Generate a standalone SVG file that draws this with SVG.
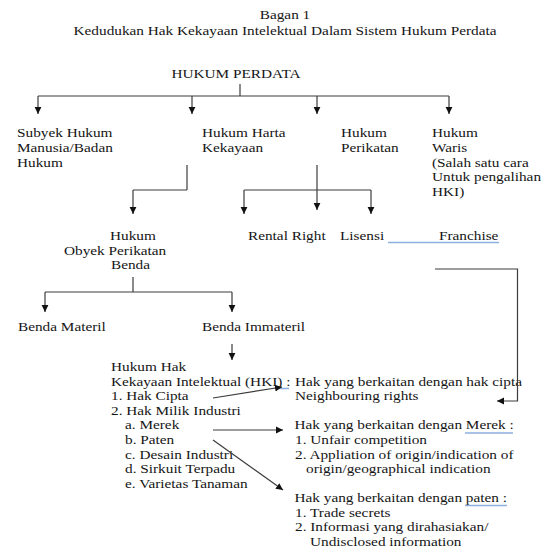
<svg xmlns="http://www.w3.org/2000/svg" width="546" height="549" viewBox="0 0 546 549">
<defs>
<style>
text{font-family:"Liberation Serif","Times New Roman",serif;font-size:13.5px;fill:#151515}
.c line,.c polyline{stroke:#3c3c3c;stroke-width:1.2;fill:none}
.a{marker-end:url(#ah)}
.u line{stroke:#8eaee0;stroke-width:1.6}
</style>
<marker id="ah" markerUnits="userSpaceOnUse" markerWidth="8" markerHeight="8" refX="7" refY="4" orient="auto"><path d="M0,0.6 L7,4 L0,7.4 z" fill="#111"/></marker>
</defs>
<rect width="546" height="549" fill="#fff"/>

<g id="title">
<text text-anchor="middle" transform="matrix(1.133 0 0 1 285 19)">Bagan 1</text>
<text text-anchor="middle" transform="matrix(1.133 0 0 1 285 34.5)">Kedudukan Hak Kekayaan Intelektual Dalam Sistem Hukum Perdata</text>
</g>

<g id="hukum-perdata"><text transform="matrix(1.133 0 0 1 171.5 78)">HUKUM PERDATA</text></g>

<g id="subyek-hukum"><text transform="matrix(1.133 0 0 1 17 137)"><tspan x="0">Subyek Hukum</tspan><tspan x="0" dy="14.8">Manusia/Badan</tspan><tspan x="0" dy="14.8">Hukum</tspan></text></g>

<g id="hukum-harta-kekayaan"><text transform="matrix(1.133 0 0 1 202 137)"><tspan x="0">Hukum Harta</tspan><tspan x="0" dy="14.8">Kekayaan</tspan></text></g>

<g id="hukum-perikatan"><text transform="matrix(1.133 0 0 1 341 137)"><tspan x="0">Hukum</tspan><tspan x="0" dy="14.8">Perikatan</tspan></text></g>

<g id="hukum-waris"><text transform="matrix(1.133 0 0 1 432 137)"><tspan x="0">Hukum</tspan><tspan x="0" dy="14.8">Waris</tspan><tspan x="0" dy="14.8">(Salah satu cara</tspan><tspan x="0" dy="14.8">Untuk pengalihan</tspan><tspan x="0" dy="14.8">HKI)</tspan></text></g>

<g id="hukum-obyek-perikatan-benda">
<text transform="matrix(1.133 0 0 1 110 240)">Hukum</text>
<text transform="matrix(1.133 0 0 1 64 254.5)">Obyek Perikatan</text>
<text transform="matrix(1.133 0 0 1 111 269)">Benda</text>
</g>

<g id="rental-right"><text transform="matrix(1.133 0 0 1 248 240)">Rental Right</text></g>
<g id="lisensi"><text transform="matrix(1.133 0 0 1 340 240)">Lisensi</text></g>
<g id="franchise"><text transform="matrix(1.133 0 0 1 439 240)">Franchise</text></g>

<g id="benda-materil"><text transform="matrix(1.133 0 0 1 18 331)">Benda Materil</text></g>
<g id="benda-immateril"><text transform="matrix(1.133 0 0 1 202 331)">Benda Immateril</text></g>

<g id="hki">
<text transform="matrix(1.133 0 0 1 111 371)">Hukum Hak</text>
<text transform="matrix(1.133 0 0 1 111 385.6)">Kekayaan Intelektual (HKI) :</text>
<text transform="matrix(1.133 0 0 1 111 400.2)">1. Hak Cipta</text>
<text transform="matrix(1.133 0 0 1 111 414.8)">2. Hak Milik Industri</text>
<text transform="matrix(1.133 0 0 1 125 429.4)">a. Merek</text>
<text transform="matrix(1.133 0 0 1 125 444)">b. Paten</text>
<text transform="matrix(1.133 0 0 1 125 458.6)">c. Desain Industri</text>
<text transform="matrix(1.133 0 0 1 125 473.2)">d. Sirkuit Terpadu</text>
<text transform="matrix(1.133 0 0 1 125 487.8)">e. Varietas Tanaman</text>
</g>

<g id="hak-cipta-terkait">
<text transform="matrix(1.133 0 0 1 295 385.6)">Hak yang berkaitan dengan hak cipta</text>
<text transform="matrix(1.133 0 0 1 295 400.2)">Neighbouring rights</text>
</g>

<g id="hak-merek-terkait">
<text transform="matrix(1.133 0 0 1 294.5 429.4)">Hak yang berkaitan dengan Merek :</text>
<text transform="matrix(1.133 0 0 1 295 444)">1. Unfair competition</text>
<text transform="matrix(1.133 0 0 1 295 458.6)">2. Appliation of origin/indication of</text>
<text transform="matrix(1.133 0 0 1 306 473.2)">origin/geographical indication</text>
</g>

<g id="hak-paten-terkait">
<text transform="matrix(1.133 0 0 1 294.5 502)">Hak yang berkaitan dengan paten :</text>
<text transform="matrix(1.133 0 0 1 295 516.6)">1. Trade secrets</text>
<text transform="matrix(1.133 0 0 1 295 531.2)">2. Informasi yang dirahasiakan/</text>
<text transform="matrix(1.133 0 0 1 310 545.8)">Undisclosed information</text>
</g>

<g id="underlines" class="u">
<line x1="388" y1="242.5" x2="499" y2="242.5"/>
<line x1="279" y1="388.5" x2="289" y2="388.5"/>
<line x1="465" y1="433" x2="513" y2="433"/>
<line x1="465" y1="505.5" x2="507" y2="505.5"/>
</g>

<g id="connectors" class="c">
<line x1="240" y1="84" x2="240" y2="96"/>
<line x1="38" y1="96" x2="449" y2="96"/>
<line class="a" x1="38" y1="96" x2="38" y2="114"/>
<line class="a" x1="192" y1="96" x2="192" y2="114"/>
<line class="a" x1="317" y1="96" x2="317" y2="114"/>
<line class="a" x1="449" y1="96" x2="449" y2="114"/>
<line x1="187" y1="165" x2="187" y2="190"/>
<line x1="133" y1="190" x2="187" y2="190"/>
<line class="a" x1="133" y1="190" x2="133" y2="214"/>
<line class="a" x1="317" y1="165" x2="317" y2="210"/>
<line x1="244" y1="190" x2="371" y2="190"/>
<line class="a" x1="244" y1="190" x2="244" y2="214"/>
<line class="a" x1="371" y1="190" x2="371" y2="214"/>
<line x1="133" y1="277" x2="133" y2="292"/>
<line x1="45" y1="292" x2="232" y2="292"/>
<line class="a" x1="45" y1="292" x2="45" y2="312"/>
<line class="a" x1="232" y1="292" x2="232" y2="312"/>
<line class="a" x1="232" y1="344" x2="232" y2="360"/>
<polyline class="a" points="435,269 517.5,269 517.5,401 497,401"/>
<line class="a" x1="213" y1="398" x2="282" y2="387"/>
<line class="a" x1="213" y1="430" x2="283" y2="430"/>
<line class="a" x1="213" y1="440" x2="283" y2="490"/>
</g>
</svg>
